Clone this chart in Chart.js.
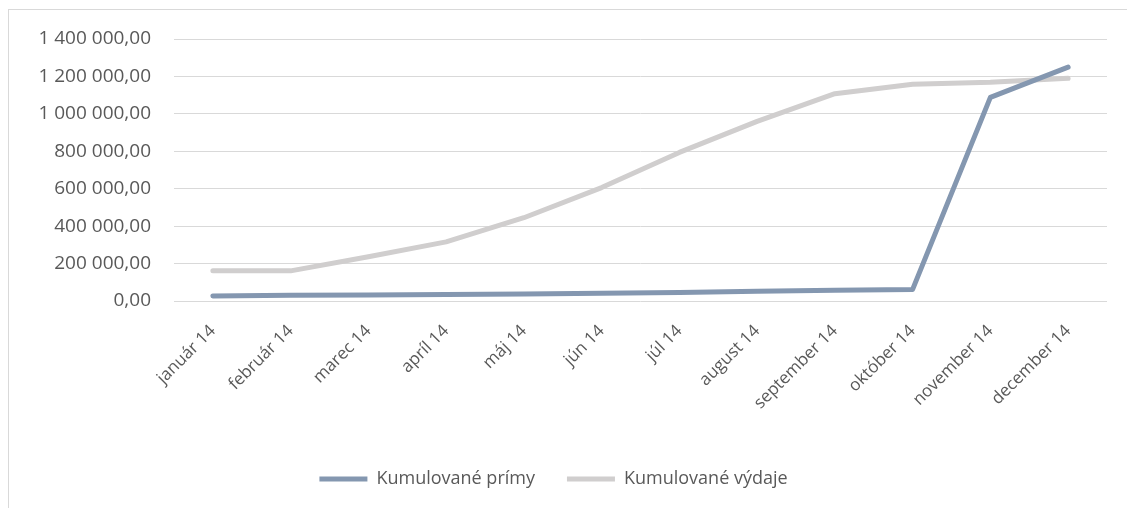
<!DOCTYPE html>
<html>
<head>
<meta charset="utf-8">
<script src="https://cdn.jsdelivr.net/npm/chart.js@4"></script>
<style>
    html, body { margin: 0; padding: 0; background: #fff; overflow: hidden; }
    #frame { position: absolute; left: 8px; top: 9px; width: 1140px; height: 520px; border: 1px solid #d9d9d9; box-sizing: border-box; }
    #wrap { position: absolute; left: 0; top: 0; width: 1127px; height: 508px; }
</style>
</head>
<body>
<div id="frame"></div>
<div id="wrap"><canvas id="chart" width="1127" height="508"></canvas></div>
<script>
// months of 2014
const months = ['január 14', 'február 14', 'marec 14', 'apríl 14', 'máj 14', 'jún 14',
    'júl 14', 'august 14', 'september 14', 'október 14', 'november 14', 'december 14'];

const prijmy = [27000, 31000, 32000, 35000, 37000, 41000, 46000, 52000, 58000, 62000, 1088000, 1250000];
const vydaje = [161000, 161000, 236000, 316000, 445000, 606000, 794000, 960000, 1108000, 1158000, 1169000, 1190000];

const yTicks = [0, 200000, 400000, 600000, 800000, 1000000, 1200000, 1400000];

function skNumber(v) {
    const parts = Number(v).toFixed(2).split('.');
    return parts[0].replace(/\B(?=(\d{3})+(?!\d))/g, ' ') + ',' + parts[1];
}

const ctx = document.getElementById('chart').getContext('2d');
new Chart(ctx, {
    type: 'line',
    data: {
        labels: months,
        datasets: [
            {
                label: 'Kumulované prímy',
                data: prijmy,
                borderColor: '#8497b0',
                backgroundColor: '#8497b0',
                borderWidth: 5,
                borderCapStyle: 'round',
                borderJoinStyle: 'round',
                pointRadius: 0,
                tension: 0,
                fill: false
            },
            {
                label: 'Kumulované výdaje',
                data: vydaje,
                borderColor: '#d0cece',
                backgroundColor: '#d0cece',
                borderWidth: 5,
                borderCapStyle: 'round',
                borderJoinStyle: 'round',
                pointRadius: 0,
                tension: 0,
                fill: false
            }
        ]
    },
    options: {
        responsive: false,
        animation: false,
        layout: { padding: { top: 39, right: 20, bottom: 10, left: 0 } },
        scales: {
            x: {
                offset: true,
                grid: { display: false },
                border: { display: false },
                ticks: {
                    color: '#595959',
                    font: { family: 'Open Sans', size: 17 },
                    minRotation: 45,
                    maxRotation: 45,
                    padding: 12
                },
                afterFit: function(scale) { scale.height = 137; }
            },
            y: {
                min: 0,
                max: 1400000,
                afterBuildTicks: function(scale) {
                    scale.ticks = yTicks.map(v => ({ value: v }));
                },
                grid: { color: '#d9d9d9', lineWidth: 1, drawTicks: false },
                border: { display: false },
                ticks: {
                    color: '#595959',
                    font: { family: 'Open Sans', size: 19 },
                    padding: 23,
                    callback: function(v) { return skNumber(v); }
                },
                afterFit: function(scale) { scale.width = 174; }
            }
        },
        plugins: {
            legend: {
                position: 'bottom',
                labels: {
                    color: '#595959',
                    font: { family: 'Open Sans', size: 18 },
                    usePointStyle: true,
                    pointStyle: 'line',
                    pointStyleWidth: 48,
                    boxWidth: 48,
                    padding: 32
                }
            },
            tooltip: { enabled: false }
        }
    }
});
</script>
</body>
</html>
